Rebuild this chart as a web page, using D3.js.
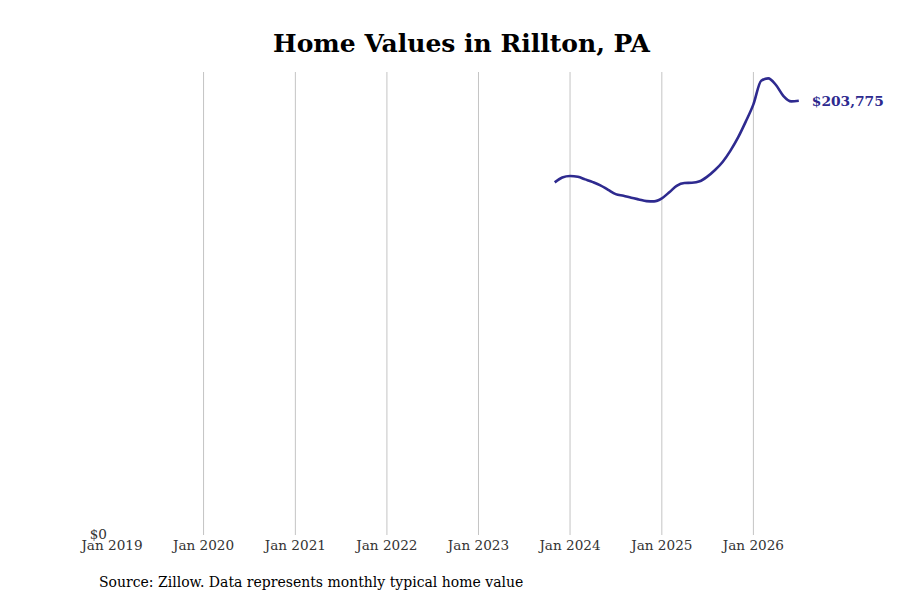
<!DOCTYPE html>
<html lang="en">
<head>
<meta charset="utf-8">
<title>Home Values in Rillton, PA</title>
<script src="https://cdn.jsdelivr.net/npm/d3@7"></script>
<style>
  body { margin: 0; background: #fff; }
  svg text { font-family: "DejaVu Serif", serif; }
</style>
</head>
<body>
<div id="chart"></div>
<script>
// monthly typical home value, Nov 2023 .. Jul 2026
var startMonth = "2023-11";
var values = [
  165500, 167800, 168500, 168100, 166900, 165600, 164100, 162000,
  160000, 159200, 158300, 157500, 156700, 156600, 158000, 161000,
  163900, 165200, 165300, 166000, 168200, 171300, 175200, 180300,
  186600, 193900, 202100, 213200, 214300, 211200, 206000, 203500,
  203775
];
var tickYears = [2019, 2020, 2021, 2022, 2023, 2024, 2025, 2026];
var yMax = 217300;

var w = 900, h = 600;
var svg = d3.select("#chart").append("svg")
  .attr("width", w).attr("height", h);

var parse = d3.timeParse("%Y-%m");
var t0 = parse(startMonth);
var data = values.map(function(v, i){
  return { date: d3.timeMonth.offset(t0, i), value: v };
});

var x = d3.scaleTime()
  .domain([new Date(2019, 0, 1), data[data.length - 1].date])
  .range([112, 798.8]);
var y = d3.scaleLinear().domain([0, yMax]).range([535, 72]);

// vertical gridlines
svg.selectAll("line.grid")
  .data(tickYears.slice(1))
  .enter().append("line")
  .attr("class", "grid")
  .attr("x1", function(d){ return x(new Date(d, 0, 1)); })
  .attr("x2", function(d){ return x(new Date(d, 0, 1)); })
  .attr("y1", y(yMax)).attr("y2", y(0))
  .attr("stroke", "#c4c4c4").attr("stroke-width", 1);

// x tick labels
svg.selectAll("text.xt")
  .data(tickYears)
  .enter().append("text")
  .attr("class", "xt")
  .attr("x", function(d){ return x(new Date(d, 0, 1)); })
  .attr("y", 550)
  .attr("text-anchor", "middle")
  .attr("font-size", "13.6px")
  .attr("fill", "#333")
  .text(function(d){ return "Jan " + d; });

// y label
svg.append("text")
  .attr("x", 107).attr("y", y(0) + 4)
  .attr("text-anchor", "end")
  .attr("font-size", "13.6px")
  .attr("fill", "#333")
  .text("$0");

var line = d3.line()
  .x(function(d){ return x(d.date); })
  .y(function(d){ return y(d.value); })
  .curve(d3.curveMonotoneX);

svg.append("path")
  .datum(data)
  .attr("d", line)
  .attr("fill", "none")
  .attr("stroke", "#2e2a8f")
  .attr("stroke-width", 2.6)
  .attr("stroke-linejoin", "round");

var last = data[data.length - 1];
svg.append("text")
  .attr("x", x(last.date) + 13)
  .attr("y", y(last.value) + 5)
  .attr("font-size", "13.8px")
  .attr("font-weight", "bold")
  .attr("fill", "#2e2a8f")
  .text(d3.format("$,")(last.value));

// title
svg.append("text")
  .attr("x", 461.5).attr("y", 52)
  .attr("text-anchor", "middle")
  .attr("font-size", "25px")
  .attr("font-weight", "bold")
  .attr("fill", "#000")
  .text("Home Values in Rillton, PA");

// source
svg.append("text")
  .attr("x", 99).attr("y", 587)
  .attr("font-size", "14px")
  .attr("fill", "#000")
  .text("Source: Zillow. Data represents monthly typical home value");
</script>
</body>
</html>
